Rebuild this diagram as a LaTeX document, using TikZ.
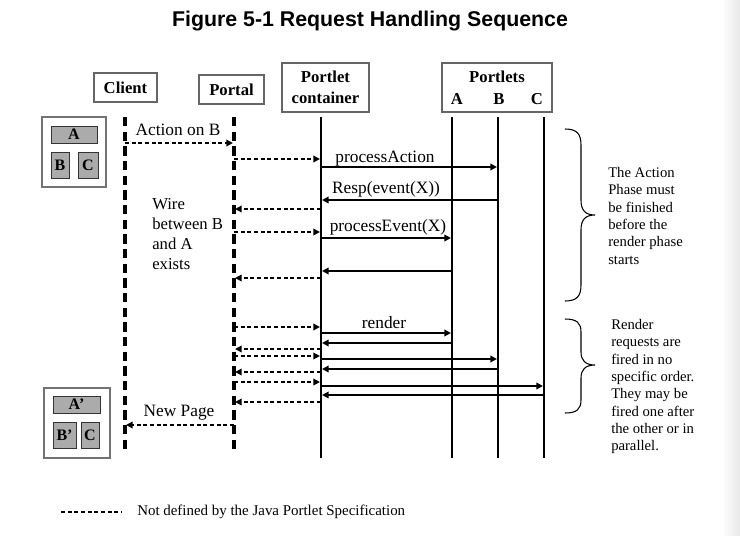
\documentclass[tikz,border=0pt]{standalone}
\usepackage{fontspec}
\setmainfont{Liberation Serif}
\newfontfamily\titlefont{Liberation Sans}
\usetikzlibrary{arrows.meta}
\begin{document}
\begin{tikzpicture}[x=0.75pt,y=-0.75pt,
 hdr/.style={draw=black!60, line width=0.8pt, fill=white, font=\bfseries\fontsize{12.5}{15}\selectfont, align=center, inner sep=0pt},
 hlbl/.style={font=\bfseries\fontsize{12.5}{15}\selectfont, inner sep=0pt},
 dline/.style={line width=2.4pt, dash pattern=on 7pt off 4pt},
 sline/.style={line width=2.1pt},
 dmsg/.style={line width=1.2pt, dash pattern=on 3pt off 2pt, -{Triangle[length=5pt,width=5pt]}, shorten >=0.8pt},
 smsg/.style={line width=1.3pt, -{Triangle[length=5pt,width=5pt]}, shorten >=0.8pt},
 lbl/.style={font=\fontsize{13}{15}\selectfont, anchor=base, inner sep=0pt},
 note/.style={font=\fontsize{11}{13}\selectfont, align=left, anchor=north west, inner sep=0pt},
 gbox/.style={draw=black!80, fill=black!33, line width=0.7pt, font=\bfseries\fontsize{12}{14}\selectfont, inner sep=0pt},
 obox/.style={draw=black!55, line width=0.8pt, fill=white},
 bracestyle/.style={line width=0.8pt}
]
\useasboundingbox (0,0) rectangle (740,536);
\shade[left color=white, right color=black!9] (722,0) rectangle (740,536);

% title
\node[font=\titlefont\bfseries\fontsize{16}{19}\selectfont] (title) at (370,21) {Figure 5-1 Request Handling Sequence};

% headers
\node[hdr, minimum width=47.25pt, minimum height=21.75pt] (hclient) at (125.5,87.5) {Client};
\node[hdr, minimum width=48.75pt, minimum height=21.75pt] (hportal) at (231.5,89.5) {Portal};
\node[hdr, minimum width=65.25pt, minimum height=36.75pt, font=\bfseries\fontsize{12.5}{16}\selectfont] (hcont) at (325.5,87.5) {Portlet\\container};
\node[hdr, minimum width=82.5pt, minimum height=36.75pt] (hportlets) at (497,87.5) {};
\node[hlbl] (tportlets) at (497,77) {Portlets};
\node[hlbl] (tA) at (457,99) {A};
\node[hlbl] (tB) at (499,99) {B};
\node[hlbl] (tC) at (537,99) {C};

% lifelines
\coordinate (cl) at (125,117); \coordinate (clb) at (125,453);
\coordinate (po) at (234,117); \coordinate (pob) at (234,453);
\coordinate (pc) at (321,117); \coordinate (pcb) at (321,458);
\coordinate (pa) at (452,117); \coordinate (pab) at (452,458);
\coordinate (pb) at (498,117); \coordinate (pbb) at (498,458);
\coordinate (pk) at (544,117); \coordinate (pkb) at (544,458);
\draw[dline] (cl) -- (clb);
\draw[dline] (po) -- (pob);
\draw[sline] (pc) -- (pcb);
\draw[sline] (pa) -- (pab);
\draw[sline] (pb) -- (pbb);
\draw[sline] (pk) -- (pkb);

% page boxes
\node[obox, minimum width=48pt, minimum height=52.5pt] (ui1) at (74,152) {};
\node[gbox, minimum width=34.5pt, minimum height=12.75pt] (uiA) at (74,134.5) {A};
\node[gbox, minimum width=13.5pt, minimum height=19.5pt] (uiB) at (60,165) {B};
\node[gbox, minimum width=15pt, minimum height=19.5pt] (uiC) at (88,165) {C};
\node[obox, minimum width=49.5pt, minimum height=52.5pt] (ui2) at (77,423) {};
\node[gbox, minimum width=35.25pt, minimum height=12.75pt] (uiA2) at (76.5,404.5) {A’};
\node[gbox, minimum width=17.25pt, minimum height=19.5pt] (uiB2) at (64.5,435) {B’};
\node[gbox, minimum width=13.5pt, minimum height=19.5pt] (uiC2) at (90,435) {C};

% action phase
\draw[dmsg] (cl |- 0,143) -- (po |- 0,143);
\node[lbl] (lact) at (178,135) {Action on B};
\draw[dmsg] (po |- 0,159) -- (pc |- 0,159);
\draw[smsg] (pc |- 0,167) -- (pb |- 0,167);
\node[lbl] (lpa) at (385,162) {processAction};
\draw[smsg] (pb |- 0,200) -- (pc |- 0,200);
\node[lbl] (lresp) at (386,193) {Resp(event(X))};
\draw[dmsg] (pc |- 0,209) -- (po |- 0,209);
\draw[dmsg] (po |- 0,232) -- (pc |- 0,232);
\draw[smsg] (pc |- 0,238) -- (pa |- 0,238);
\node[lbl] (lpe) at (388,231) {processEvent(X)};
\draw[smsg] (pa |- 0,271) -- (pc |- 0,271);
\draw[dmsg] (pc |- 0,278) -- (po |- 0,278);
\node[note, font=\fontsize{12.5}{15}\selectfont] (wire) at (152,198) {Wire\\between B\\and A\\exists};

% render phase
\draw[dmsg] (po |- 0,327) -- (pc |- 0,327);
\draw[smsg] (pc |- 0,333) -- (pa |- 0,333);
\node[lbl] (lrender) at (384,328) {render};
\draw[smsg] (pa |- 0,343) -- (pc |- 0,343);
\draw[dmsg] (pc |- 0,349) -- (po |- 0,349);
\draw[dmsg] (po |- 0,356) -- (pc |- 0,356);
\draw[smsg] (pc |- 0,359) -- (pb |- 0,359);
\draw[smsg] (pb |- 0,369) -- (pc |- 0,369);
\draw[dmsg] (pc |- 0,372) -- (po |- 0,372);
\draw[dmsg] (po |- 0,382) -- (pc |- 0,382);
\draw[smsg] (pc |- 0,386) -- (pk |- 0,386);
\draw[smsg] (pk |- 0,395) -- (pc |- 0,395);
\draw[dmsg] (pc |- 0,402) -- (po |- 0,402);
\draw[dmsg] (po |- 0,425) -- (cl |- 0,425);
\node[lbl] (lnew) at (179,416) {New Page};

% braces
\draw[bracestyle] (565,129) .. controls (577,129) and (581,134) .. (581,145) -- (581,200) .. controls (581,210) and (585,215) .. (595,215) .. controls (585,215) and (581,220) .. (581,230) -- (581,285) .. controls (581,296) and (577,301) .. (565,301);
\node[note] (nact) at (608,167) {The Action\\Phase must\\be finished\\before the\\render phase\\starts};
\draw[bracestyle] (565,319) .. controls (577,319) and (581,323) .. (581,332) -- (581,352) .. controls (581,360) and (585,365) .. (595,365) .. controls (585,365) and (581,370) .. (581,378) -- (581,400) .. controls (581,409) and (577,413) .. (565,413);
\node[note] (nrender) at (611,319) {Render\\requests are\\fired in no\\specific order.\\They may be\\fired one after\\the other or in\\parallel.};

% legend
\coordinate (lg1) at (61,512); \coordinate (lg2) at (122,512);
\draw[line width=0.9pt, dash pattern=on 3pt off 2pt] (lg1) -- (lg2);
\node[font=\fontsize{11.2}{13}\selectfont, anchor=base west, inner sep=0pt] (legend) at (137,515) {Not defined by the Java Portlet Specification};
\end{tikzpicture}
\end{document}
